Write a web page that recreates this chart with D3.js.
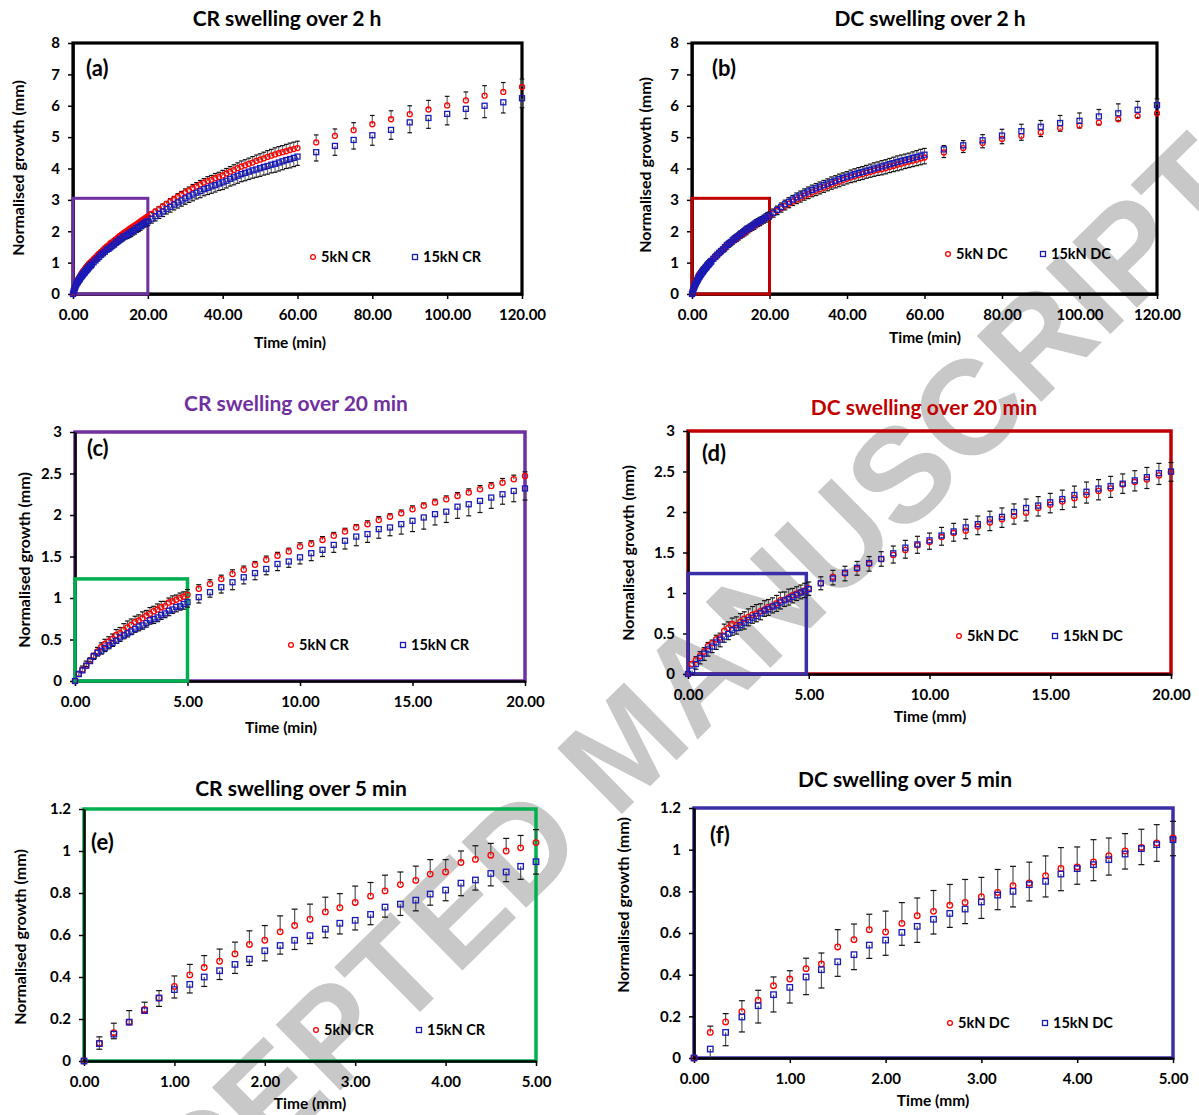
<!DOCTYPE html>
<html><head><meta charset="utf-8">
<script src="https://cdn.jsdelivr.net/npm/d3@7"></script>
<style>
body{margin:0;background:#fff}
svg{display:block}
text{font-family:Lato,'Open Sans',sans-serif;font-weight:700}
</style>
</head><body>
<svg id="chart" width="1199" height="1115"></svg>
<script>
// ---------- sampling times (min) ----------
const time10s = [0,0.17,0.33,0.5,0.67,0.83,1,1.17,1.33,1.5,1.67,1.83,2,2.17,2.33,2.5,2.67,2.83,3,3.17,3.33,3.5,3.67,3.83,4,4.17,4.33,4.5,4.67,4.83,5];
const time30s = [5.5,6,6.5,7,7.5,8,8.5,9,9.5,10,10.5,11,11.5,12,12.5,13,13.5,14,14.5,15,15.5,16,16.5,17,17.5,18,18.5,19,19.5,20];
const time1min = [21,22,23,24,25,26,27,28,29,30,31,32,33,34,35,36,37,38,39,40,41,42,43,44,45,46,47,48,49,50,51,52,53,54,55,56,57,58,59,60];
const time5min = [65,70,75,80,85,90,95,100,105,110,115,120];

// ---------- CR 5kN ----------
const cr5_10s = [0,0.085,0.135,0.185,0.245,0.30,0.355,0.41,0.445,0.475,0.51,0.555,0.575,0.615,0.645,0.675,0.71,0.73,0.755,0.785,0.81,0.84,0.86,0.89,0.90,0.945,0.96,0.98,1.0,1.015,1.04];
const cr5_30s = [1.11,1.17,1.23,1.29,1.34,1.40,1.46,1.51,1.56,1.62,1.65,1.70,1.75,1.80,1.85,1.89,1.94,1.98,2.02,2.07,2.11,2.15,2.19,2.23,2.27,2.31,2.35,2.39,2.43,2.47];
const cr5_1min = [2.55,2.63,2.71,2.79,2.87,2.95,3.02,3.10,3.17,3.24,3.30,3.37,3.43,3.49,3.55,3.60,3.64,3.69,3.73,3.78,3.84,3.90,3.95,4.01,4.06,4.10,4.15,4.19,4.24,4.28,4.32,4.37,4.41,4.45,4.49,4.52,4.55,4.59,4.62,4.65];
const cr5_5min = [4.83,5.04,5.22,5.41,5.57,5.73,5.88,6.01,6.17,6.32,6.44,6.60];
const cr5Err_10s = [0,0.03,0.045,0.055,0.035,0.035,0.05,0.05,0.057,0.058,0.056,0.065,0.07,0.076,0.078,0.072,0.07,0.067,0.078,0.065,0.075,0.06,0.068,0.069,0.059,0.055,0.065,0.056,0.06,0.059,0.062];
const cr5Err_30s = [0.05,0.05,0.045,0.05,0.045,0.04,0.045,0.04,0.04,0.045,0.04,0.04,0.04,0.04,0.035,0.04,0.04,0.035,0.04,0.04,0.035,0.04,0.04,0.04,0.045,0.045,0.04,0.05,0.05,0.05];
const cr5Err_1min = [0.06,0.07,0.07,0.08,0.08,0.09,0.09,0.10,0.10,0.11,0.11,0.12,0.12,0.13,0.13,0.14,0.14,0.15,0.15,0.16,0.16,0.16,0.17,0.17,0.18,0.18,0.18,0.19,0.19,0.19,0.20,0.20,0.20,0.21,0.21,0.21,0.22,0.22,0.22,0.22];
const cr5Err_5min = [0.24,0.22,0.24,0.28,0.27,0.27,0.29,0.29,0.27,0.32,0.30,0.25];

// ---------- CR 15kN ----------
const cr15_10s = [0,0.083,0.128,0.185,0.24,0.30,0.34,0.365,0.40,0.43,0.46,0.485,0.525,0.55,0.575,0.597,0.628,0.656,0.67,0.698,0.733,0.747,0.766,0.795,0.814,0.847,0.862,0.893,0.90,0.927,0.949];
const cr15_30s = [1.01,1.07,1.13,1.19,1.25,1.30,1.35,1.41,1.44,1.49,1.54,1.58,1.64,1.69,1.74,1.77,1.83,1.85,1.89,1.93,1.97,2.01,2.04,2.10,2.13,2.17,2.21,2.25,2.29,2.32];
const cr15_1min = [2.40,2.48,2.56,2.63,2.71,2.78,2.85,2.92,2.98,3.05,3.11,3.17,3.23,3.28,3.34,3.38,3.43,3.47,3.52,3.56,3.61,3.67,3.72,3.77,3.82,3.86,3.90,3.94,3.97,4.01,4.05,4.08,4.12,4.15,4.19,4.23,4.27,4.30,4.34,4.38];
const cr15_5min = [4.52,4.72,4.91,5.06,5.23,5.47,5.61,5.74,5.90,6.00,6.11,6.24];
const cr15Err_10s = [0,0.027,0.022,0.01,0.01,0.04,0.04,0.041,0.045,0.042,0.043,0.03,0.048,0.041,0.044,0.038,0.041,0.051,0.046,0.049,0.048,0.054,0.051,0.053,0.051,0.06,0.048,0.059,0.046,0.062,0.059];
const cr15Err_30s = [0.07,0.06,0.07,0.09,0.08,0.08,0.07,0.08,0.07,0.08,0.09,0.08,0.09,0.1,0.11,0.1,0.11,0.1,0.12,0.13,0.14,0.13,0.13,0.14,0.14,0.14,0.13,0.12,0.13,0.14];
const cr15Err_1min = [0.14,0.15,0.15,0.16,0.16,0.17,0.17,0.18,0.18,0.19,0.19,0.2,0.2,0.21,0.21,0.21,0.22,0.22,0.22,0.23,0.23,0.23,0.24,0.24,0.24,0.25,0.25,0.25,0.25,0.26,0.26,0.26,0.26,0.27,0.27,0.27,0.27,0.28,0.28,0.28];
const cr15Err_5min = [0.28,0.30,0.29,0.32,0.30,0.33,0.33,0.35,0.31,0.38,0.34,0.30];

// ---------- DC 5kN ----------
const dc5_10s = [0,0.123,0.173,0.222,0.277,0.347,0.379,0.429,0.451,0.533,0.568,0.616,0.605,0.646,0.683,0.704,0.733,0.747,0.774,0.795,0.827,0.84,0.875,0.91,0.917,0.941,0.971,0.994,1.011,1.032,1.056];
const dc5_30s = [1.12,1.20,1.24,1.30,1.36,1.42,1.47,1.53,1.59,1.63,1.69,1.74,1.77,1.82,1.87,1.91,1.95,1.99,2.05,2.09,2.13,2.17,2.21,2.26,2.29,2.34,2.37,2.40,2.45,2.49];
const dc5_1min = [2.57,2.65,2.73,2.81,2.88,2.95,3.01,3.07,3.13,3.18,3.24,3.29,3.34,3.39,3.44,3.49,3.54,3.58,3.63,3.67,3.71,3.75,3.79,3.82,3.86,3.89,3.93,3.96,3.98,4.01,4.05,4.08,4.12,4.15,4.19,4.22,4.25,4.28,4.32,4.35];
const dc5_5min = [4.51,4.65,4.81,4.94,5.04,5.15,5.29,5.37,5.46,5.57,5.67,5.76];
const dc5Err_10s = [0,0.03,0.04,0.053,0.048,0.042,0.04,0.05,0.053,0.083,0.075,0.074,0.1,0.1,0.085,0.1,0.1,0.11,0.093,0.11,0.093,0.1,0.095,0.1,0.096,0.107,0.085,0.083,0.087,0.088,0.08];
const dc5Err_30s = [0.08,0.08,0.09,0.08,0.09,0.09,0.10,0.10,0.10,0.09,0.10,0.10,0.10,0.10,0.10,0.10,0.10,0.10,0.10,0.10,0.10,0.11,0.10,0.11,0.11,0.11,0.11,0.11,0.11,0.11];
const dc5Err_1min = [0.12,0.12,0.12,0.13,0.13,0.13,0.13,0.14,0.14,0.14,0.14,0.15,0.15,0.15,0.15,0.15,0.16,0.16,0.16,0.16,0.16,0.17,0.17,0.17,0.17,0.17,0.18,0.18,0.18,0.18,0.18,0.18,0.19,0.19,0.19,0.19,0.19,0.19,0.20,0.20];
const dc5Err_5min = [0.16,0.14,0.15,0.15,0.14,0.13,0.10,0.08,0.07,0.05,0.05,0.05];

// ---------- DC 15kN ----------
const dc15_10s = [0,0.043,0.123,0.197,0.251,0.304,0.339,0.389,0.424,0.462,0.496,0.542,0.566,0.603,0.632,0.666,0.694,0.715,0.749,0.782,0.80,0.832,0.848,0.883,0.909,0.928,0.952,0.979,1.005,1.024,1.048];
const dc15_30s = [1.12,1.18,1.25,1.31,1.37,1.42,1.49,1.56,1.60,1.65,1.71,1.76,1.81,1.85,1.91,1.94,2.00,2.05,2.08,2.12,2.16,2.21,2.25,2.29,2.32,2.35,2.39,2.43,2.48,2.50];
const dc15_1min = [2.59,2.68,2.77,2.86,2.94,3.01,3.08,3.14,3.21,3.27,3.32,3.37,3.42,3.47,3.52,3.57,3.61,3.66,3.70,3.74,3.78,3.82,3.86,3.89,3.93,3.96,4.00,4.03,4.07,4.10,4.14,4.17,4.21,4.24,4.27,4.30,4.34,4.37,4.41,4.44];
const dc15_5min = [4.61,4.74,4.90,5.05,5.19,5.33,5.45,5.52,5.66,5.76,5.87,6.02];
const dc15Err_10s = [0,0.043,0.064,0.072,0.083,0.083,0.075,0.085,0.088,0.07,0.072,0.064,0.073,0.062,0.077,0.071,0.067,0.07,0.079,0.07,0.075,0.078,0.075,0.08,0.075,0.077,0.074,0.072,0.077,0.08,0.077];
const dc15Err_30s = [0.08,0.08,0.08,0.08,0.08,0.09,0.09,0.09,0.10,0.09,0.10,0.10,0.10,0.10,0.10,0.11,0.10,0.11,0.11,0.11,0.11,0.11,0.12,0.11,0.12,0.12,0.12,0.12,0.12,0.11];
const dc15Err_1min = [0.12,0.12,0.13,0.13,0.13,0.13,0.14,0.14,0.14,0.14,0.15,0.15,0.15,0.15,0.15,0.16,0.16,0.16,0.16,0.16,0.17,0.17,0.17,0.17,0.17,0.18,0.18,0.18,0.18,0.18,0.18,0.19,0.19,0.19,0.19,0.19,0.19,0.20,0.20,0.20];
const dc15Err_5min = [0.12,0.15,0.18,0.20,0.22,0.20,0.24,0.25,0.22,0.30,0.27,0.20];

// ---------- tick values ----------
const xTicks2h = [0,20,40,60,80,100,120];
const yTicks2h = [0,1,2,3,4,5,6,7,8];
const xTicks20 = [0,5,10,15,20];
const yTicks20 = [0,0.5,1,1.5,2,2.5,3];
const xTicks5 = [0,1,2,3,4,5];
const yTicks5 = [0,0.2,0.4,0.6,0.8,1,1.2];

// ---------- assemble ----------
const timeAll = [...time10s, ...time30s, ...time1min, ...time5min];
const sets = {
  CR: {label:'CR',
       s5: [...cr5_10s, ...cr5_30s, ...cr5_1min, ...cr5_5min],
       e5: [...cr5Err_10s, ...cr5Err_30s, ...cr5Err_1min, ...cr5Err_5min],
       s15: [...cr15_10s, ...cr15_30s, ...cr15_1min, ...cr15_5min],
       e15: [...cr15Err_10s, ...cr15Err_30s, ...cr15Err_1min, ...cr15Err_5min]},
  DC: {label:'DC',
       s5: [...dc5_10s, ...dc5_30s, ...dc5_1min, ...dc5_5min],
       e5: [...dc5Err_10s, ...dc5Err_30s, ...dc5Err_1min, ...dc5Err_5min],
       s15: [...dc15_10s, ...dc15_30s, ...dc15_1min, ...dc15_5min],
       e15: [...dc15Err_10s, ...dc15Err_30s, ...dc15Err_1min, ...dc15Err_5min]}
};

const RED = '#ff0000', BLUE = '#1a1ab8';
const PURPLE = '#7030a0', DKRED = '#c00000', GREEN = '#00b050', INDIGO = '#3a2fa8';

const panels = [
 {set:'CR', tag:'(a)', title:'CR swelling over 2 h', titleColor:'#000', titlePos:[287,26],
  left:73,right:522,top:43,bottom:294, xMax:120,yMax:8, xTicks:xTicks2h,yTicks:yTicks2h,
  border:'#000', borderW:3.2, inset:{x:20,y:3.05,color:PURPLE,w:3}, tagPos:[86,76],
  xTitle:['Time (min)',290,348], yTitle:[18,168], leg:[313,257,415], r:2.5, sq:5, cap:2.3, stem:'#6a6a6a'},
 {set:'DC', tag:'(b)', title:'DC swelling over 2 h', titleColor:'#000', titlePos:[930,26],
  left:692,right:1157,top:43,bottom:294, xMax:120,yMax:8, xTicks:xTicks2h,yTicks:yTicks2h,
  border:'#000', borderW:3.2, inset:{x:20,y:3.05,color:DKRED,w:3}, tagPos:[712,76],
  xTitle:['Time (min)',925,343], yTitle:[645,165], leg:[948,254,1043], r:2.5, sq:5, cap:2.3, stem:'#6a6a6a'},
 {set:'CR', tag:'(c)', title:'CR swelling over 20 min', titleColor:PURPLE, titlePos:[296,411],
  left:75,right:525,top:432,bottom:681, xMax:20,yMax:3, xTicks:xTicks20,yTicks:yTicks20,
  border:PURPLE, borderW:3.5, inset:{x:5,y:1.23,color:GREEN,w:3.5}, tagPos:[87,456],
  xTitle:['Time (min)',281,733], yTitle:[24,560], leg:[291,645,403], r:2.6, sq:5, cap:2.5, stem:'#555'},
 {set:'DC', tag:'(d)', title:'DC swelling over 20 min', titleColor:DKRED, titlePos:[924,415],
  left:688,right:1171,top:431,bottom:674, xMax:20,yMax:3, xTicks:xTicks20,yTicks:yTicks20,
  border:DKRED, borderW:3.5, inset:{x:4.9,y:1.24,color:INDIGO,w:3.5}, tagPos:[702,461],
  xTitle:['Time (mm)',930,722], yTitle:[628,553], leg:[959,636,1055], r:2.6, sq:5, cap:2.5, stem:'#555'},
 {set:'CR', tag:'(e)', title:'CR swelling over 5 min', titleColor:'#000', titlePos:[301,796],
  left:84,right:536,top:809,bottom:1061, xMax:5,yMax:1.2, xTicks:xTicks5,yTicks:yTicks5,
  border:GREEN, borderW:3.5, inset:null, tagPos:[91,850],
  xTitle:['Time (mm)',310,1109], yTitle:[20,937], leg:[316,1030,419], r:2.8, sq:5.5, cap:3, stem:'#555'},
 {set:'DC', tag:'(f)', title:'DC swelling over 5 min', titleColor:'#000', titlePos:[905,787],
  left:694,right:1173,top:808,bottom:1058, xMax:5,yMax:1.2, xTicks:xTicks5,yTicks:yTicks5,
  border:INDIGO, borderW:3.5, inset:null, tagPos:[710,843],
  xTitle:['Time (mm)',933,1106], yTitle:[623,905], leg:[950,1023,1045], r:2.8, sq:5.5, cap:3, stem:'#555'}
];

const svg = d3.select('#chart');
svg.append('rect').attr('width',1199).attr('height',1115).attr('fill','#fff');

// watermark (behind everything; runs off the page like the reference)
svg.append('text')
  .attr('x',625).attr('y',745)
  .attr('transform','rotate(-44.5,625,745)')
  .attr('text-anchor','middle').attr('dy','0.35em')
  .style('font-family','"Liberation Sans",Arial,sans-serif').style('font-weight',700)
  .attr('font-size',134).attr('fill','#c8c8c8')
  .text('ACCEPTED MANUSCRIPT');

const fmtY = d => String(+d.toFixed(2));

panels.forEach(p => {
  const ds = sets[p.set];
  const g = svg.append('g');
  const x = d3.scaleLinear().domain([0,p.xMax]).range([p.left,p.right]);
  const y = d3.scaleLinear().domain([0,p.yMax]).range([p.bottom,p.top]);

  // frame
  g.append('rect').attr('x',p.left).attr('y',p.top)
    .attr('width',p.right-p.left).attr('height',p.bottom-p.top)
    .attr('fill','none').attr('stroke',p.border).attr('stroke-width',p.borderW);

  // axes
  const ax = g.append('g').attr('transform',`translate(0,${p.bottom})`)
    .call(d3.axisBottom(x).tickValues(p.xTicks).tickFormat(d3.format('.2f')).tickSize(5).tickSizeOuter(0).tickPadding(10));
  const ay = g.append('g').attr('transform',`translate(${p.left},0)`)
    .call(d3.axisLeft(y).tickValues(p.yTicks).tickFormat(fmtY).tickSize(5).tickSizeOuter(0).tickPadding(8));
  [ax,ay].forEach(a => {
    a.attr('font-size',15).attr('font-family',null);
    a.select('.domain').attr('stroke','#000').attr('stroke-width',2.4);
    a.selectAll('.tick line').attr('stroke','#000').attr('stroke-width',1.5);
    a.selectAll('.tick text').attr('fill','#000');
  });

  // inset box
  if (p.inset) {
    g.append('rect').attr('x',x(0)).attr('y',y(p.inset.y))
      .attr('width',x(p.inset.x)-x(0)).attr('height',y(0)-y(p.inset.y))
      .attr('fill','none').attr('stroke',p.inset.color).attr('stroke-width',p.inset.w);
  }

  // points in range
  const idx = d3.range(timeAll.length).filter(i => timeAll[i] <= p.xMax + 1e-9);
  const series = [
    {vals:ds.s5, errs:ds.e5, other:ds.s15, red:true},
    {vals:ds.s15, errs:ds.e15, other:ds.s5, red:false}
  ];
  // error bars (outward from the pair)
  const eg = g.append('g');
  series.forEach(s => {
    idx.forEach(i => {
      const v = s.vals[i], e = s.errs[i] || 0, o = s.other[i];
      if (v === undefined || !e) return;
      const up = s.red ? v >= o : v > o;
      const v2 = up ? v + e : v - e;
      const xx = x(timeAll[i]);
      eg.append('line').attr('x1',xx).attr('x2',xx).attr('y1',y(v)).attr('y2',y(v2))
        .attr('stroke',p.stem).attr('stroke-width',1.2);
      eg.append('line').attr('x1',xx-p.cap).attr('x2',xx+p.cap).attr('y1',y(v2)).attr('y2',y(v2))
        .attr('stroke','#111').attr('stroke-width',1.2);
    });
  });
  // markers
  g.append('g').selectAll('circle').data(idx.filter(i => ds.s5[i] !== undefined)).join('circle')
    .attr('cx',i => x(timeAll[i])).attr('cy',i => y(ds.s5[i])).attr('r',p.r)
    .attr('fill','none').attr('stroke',RED).attr('stroke-width',1.3);
  g.append('g').selectAll('rect').data(idx.filter(i => ds.s15[i] !== undefined)).join('rect')
    .attr('x',i => x(timeAll[i]) - p.sq/2).attr('y',i => y(ds.s15[i]) - p.sq/2)
    .attr('width',p.sq).attr('height',p.sq)
    .attr('fill','none').attr('stroke',BLUE).attr('stroke-width',1.3);

  // titles
  g.append('text').attr('x',p.titlePos[0]).attr('y',p.titlePos[1]).attr('text-anchor','middle')
    .attr('font-size',21).attr('fill',p.titleColor).text(p.title);
  g.append('text').attr('x',p.tagPos[0]).attr('y',p.tagPos[1])
    .attr('font-size',22).attr('fill','#000').text(p.tag);
  g.append('text').attr('x',p.xTitle[1]).attr('y',p.xTitle[2]).attr('text-anchor','middle')
    .attr('font-size',15.5).attr('fill','#000').text(p.xTitle[0]);
  g.append('text').attr('transform',`translate(${p.yTitle[0]},${p.yTitle[1]}) rotate(-90)`)
    .attr('text-anchor','middle').attr('dy','0.35em')
    .attr('font-size',16).attr('fill','#000').text('Normalised growth (mm)');

  // legend
  const [lx1, ly, lx2] = p.leg;
  g.append('circle').attr('cx',lx1).attr('cy',ly).attr('r',2.4).attr('fill','none').attr('stroke',RED).attr('stroke-width',1.3);
  g.append('text').attr('x',lx1+8).attr('y',ly).attr('dy','0.35em').attr('font-size',14.5).text('5kN ' + ds.label);
  g.append('rect').attr('x',lx2-2.5).attr('y',ly-2.5).attr('width',5).attr('height',5).attr('fill','none').attr('stroke',BLUE).attr('stroke-width',1.3);
  g.append('text').attr('x',lx2+8).attr('y',ly).attr('dy','0.35em').attr('font-size',14.5).text('15kN ' + ds.label);
});
</script>
</body></html>
